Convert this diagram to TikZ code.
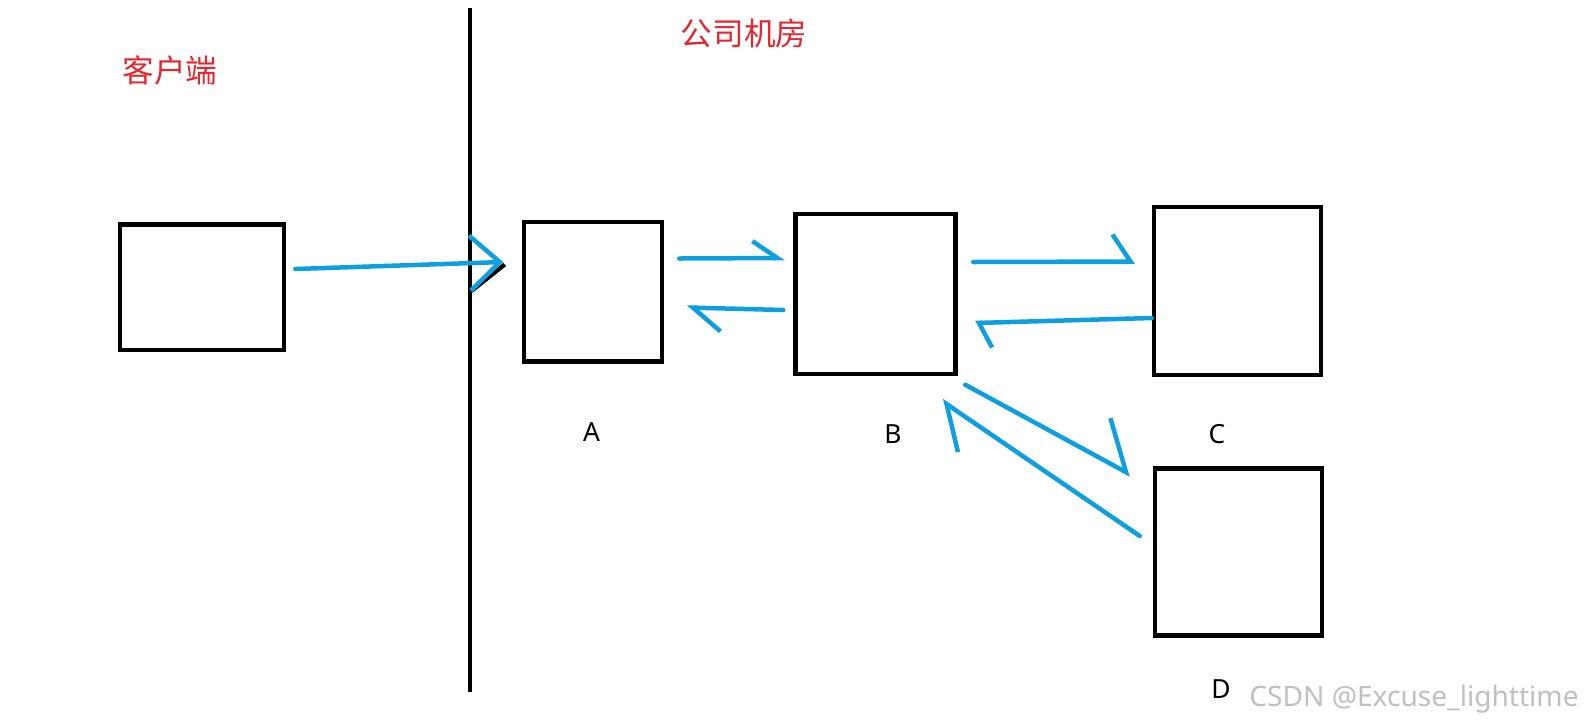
\documentclass[tikz,border=0pt]{standalone}
\usepackage{fontspec}
\setmainfont{Noto Sans}
\newfontfamily\cjk{Noto Sans CJK SC}
\usepackage{tikz}
\usetikzlibrary{arrows.meta,positioning}
\definecolor{penCol}{HTML}{0EA0DE}
\definecolor{tagCol}{HTML}{E3262F}
\definecolor{markCol}{HTML}{C0C0C0}
\tikzset{
  box/.style 2 args={draw, line width=0.09cm, minimum width=#1, minimum height=#2, inner sep=0pt},
  wall/.style={line width=0.085cm},
  pen/.style={penCol, line width=0.09cm, line cap=round},              % hand-drawn blue stroke
  half/.style 2 args={pen, -{Straight Barb[left,length=#1,width=#2]}}, % one-sided barb
  tag/.style={font=\cjk\fontsize{18}{20}\selectfont, text=tagCol},
  lbl/.style={font=\fontsize{15}{18}\selectfont},
  wmark/.style={font=\fontsize{16}{18}\selectfont, text=markCol},
}

\begin{document}
\begin{tikzpicture}
  \useasboundingbox (0,0) rectangle (31.76,-14.54);
  % boxes
  \node[box={3.28cm}{2.51cm}] (client) at (4.04,-5.74) {};
  \node[box={2.76cm}{2.79cm}] (A) at (11.86,-5.83) {};
  \node[box={3.20cm}{3.20cm}] (B) at (17.51,-5.88) {};
  \node[box={3.34cm}{3.36cm}] (C) at (24.75,-5.82) {};
  \node[box={3.34cm}{3.34cm}] (D) at (24.77,-11.04) {};

  % dividing line
  \draw[wall] (9.40,-0.16) -- (9.40,-13.84);

  % titles and labels
  \node[tag] (side) at (3.40,-1.40) {客户端};
  \node[tag] (room) at (14.88,-0.67) {公司机房};
  \node[lbl] (labA) at (11.83,-8.65) {A};
  \node[lbl] (labB) at (17.86,-8.69) {B};
  \node[lbl] (labC) at (24.34,-8.69) {C};
  \node[lbl] (labD) at (24.42,-13.79) {D};
  \node[wmark] (wm) at (28.28,-13.98) {CSDN @Excuse\_lighttime};

  % arrows
  \draw[wall] ([xshift=-1.01cm,yshift=0.01cm]A.west) -- ([xshift=-0.34cm,yshift=0.54cm]A.west);
  \draw[pen, -{Straight Barb[length=0.6cm,width=1.1cm]}]
    ([xshift=0.18cm,yshift=0.36cm]client.east) -- ([xshift=-0.37cm,yshift=0.59cm]A.west);
  \draw[half={0.5cm}{0.68cm}] ([xshift=0.30cm,yshift=0.66cm]A.east) -- ([xshift=-0.17cm,yshift=0.72cm]B.west);
  \draw[half={0.56cm}{0.92cm}] ([xshift=-0.20cm,yshift=-0.32cm]B.west) -- ([xshift=0.45cm,yshift=-0.32cm]A.east);
  \draw[half={0.36cm}{1.08cm}] ([xshift=0.31cm,yshift=0.64cm]B.east) -- ([xshift=-0.34cm,yshift=0.59cm]C.west);
  \draw[half={0.25cm}{1.0cm}] ([yshift=-0.54cm]C.west) -- ([xshift=0.35cm,yshift=-0.58cm]B.east);
  \draw[half={0.79cm}{1.6cm}] ([xshift=0.15cm,yshift=-0.17cm]B.south east) -- ([xshift=-0.44cm,yshift=-0.17cm]D.north west);
  \draw[half={0.73cm}{1.33cm}] ([xshift=-0.26cm,yshift=0.32cm]D.west) -- ([xshift=-0.32cm,yshift=-0.49cm]B.south east);
\end{tikzpicture}
\end{document}
